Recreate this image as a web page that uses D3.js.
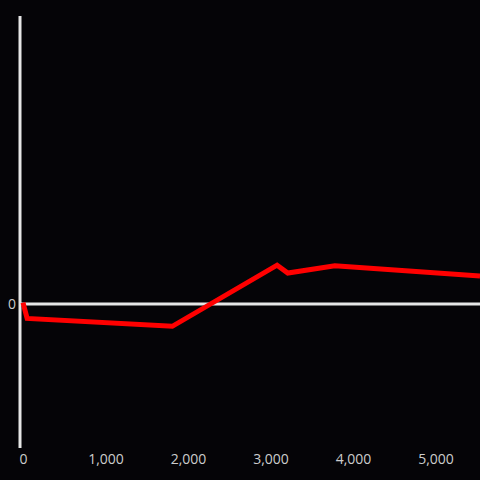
<!DOCTYPE html>
<html>
<head>
<meta charset="utf-8">
<script src="https://cdn.jsdelivr.net/npm/d3@7"></script>
<style>
  html, body { margin: 0; padding: 0; background: #050407; }
  svg { display: block; font-family: "Open Sans", Arial, sans-serif; }
</style>
</head>
<body>
<svg width="480" height="480"></svg>
<script>
// data (y in arbitrary units)
var xValues = [0, 50, 1810, 3080, 3210, 3780, 5540];
var yValues = [0.01, -0.1, -0.155, 0.27, 0.215, 0.265, 0.195];
var xTicks = [0, 1000, 2000, 3000, 4000, 5000];
var yTicks = [0];

var width = 480;
var height = 480;

var svg = d3.select('svg')
  .attr('width', width)
  .attr('height', height);

svg.append('rect')
  .attr('width', width)
  .attr('height', height)
  .attr('fill', '#050407');

var x = d3.scaleLinear().domain([0, 5540]).range([23, 480]);
var y = d3.scaleLinear().domain([-1, 2]).range([448, 16]);

// vertical axis line
svg.append('line')
  .attr('x1', 20).attr('x2', 20)
  .attr('y1', y(2)).attr('y2', y(-1))
  .attr('stroke', '#e6e6e6')
  .attr('stroke-width', 3);

// zero line
svg.append('line')
  .attr('x1', 20).attr('x2', width)
  .attr('y1', y(0)).attr('y2', y(0))
  .attr('stroke', '#e6e6e6')
  .attr('stroke-width', 3);

var xAxis = svg.append('g')
  .attr('transform', 'translate(0,454)')
  .call(d3.axisBottom(x).tickValues(xTicks).tickSize(0).tickPadding(0).tickFormat(d3.format(',')));
xAxis.select('.domain').remove();
xAxis.selectAll('text')
  .attr('fill', '#cccccc')
  .attr('font-size', 14)
  .attr('font-family', '"Open Sans", Arial, sans-serif');

var yAxis = svg.append('g')
  .attr('transform', 'translate(16,0)')
  .call(d3.axisLeft(y).tickValues(yTicks).tickSize(0).tickPadding(0).tickFormat(d3.format('d')));
yAxis.select('.domain').remove();
yAxis.selectAll('text')
  .attr('fill', '#cccccc')
  .attr('font-size', 14)
  .attr('font-family', '"Open Sans", Arial, sans-serif');

var points = xValues.map(function(d, i) { return [d, yValues[i]]; });

var line = d3.line()
  .x(function(d) { return x(d[0]); })
  .y(function(d) { return y(d[1]); });

svg.append('path')
  .datum(points)
  .attr('d', line)
  .attr('fill', 'none')
  .attr('stroke', '#ff0000')
  .attr('stroke-width', 5)
  .attr('stroke-linejoin', 'miter');
</script>
</body>
</html>
